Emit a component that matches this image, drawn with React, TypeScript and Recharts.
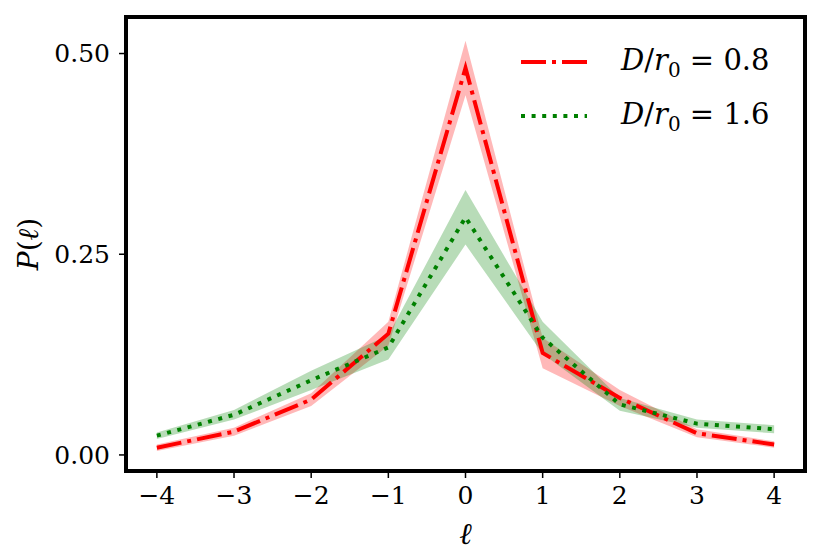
import {
  ComposedChart,
  Area,
  Line,
  XAxis,
  YAxis,
  ReferenceArea,
  Legend,
} from "recharts";

// topological charge values on the x axis
const ells = [-4, -3, -2, -1, 0, 1, 2, 3, 4];
// D/r0 = 0.8
const pNarrow = [0.009, 0.029, 0.069, 0.151, 0.482, 0.127, 0.071, 0.027, 0.013];
const errNarrow = [0.004, 0.005, 0.008, 0.015, 0.034, 0.019, 0.01, 0.005, 0.004];
// D/r0 = 1.6
const pWide = [0.024, 0.05, 0.093, 0.134, 0.296, 0.146, 0.063, 0.039, 0.032];
const errWide = [0.004, 0.006, 0.012, 0.015, 0.034, 0.02, 0.008, 0.005, 0.005];

const yTicks = [0, 0.25, 0.5];
const legendLabels = ["0.8", "1.6"];

const data = ells.map((l, i) => ({
  l,
  narrow: pNarrow[i],
  narrowBand: [pNarrow[i] - errNarrow[i], pNarrow[i] + errNarrow[i]],
  wide: pWide[i],
  wideBand: [pWide[i] - errWide[i], pWide[i] + errWide[i]],
}));

const FONT = "DejaVu Serif";
const X_DOMAIN: [number, number] = [-4.4, 4.4];
const Y_DOMAIN: [number, number] = [-0.02, 0.5455];
const ELL = "\u2113";

const fmtX = (v: number) => (v < 0 ? "\u2212" + Math.abs(v) : String(v));

const legendRows = [
  { color: "#ff0000", dash: "25 6 4 6", label: legendLabels[0] },
  { color: "#008000", dash: "4 6.6", label: legendLabels[1] },
];

function LegendBox() {
  return (
    <div style={{ fontFamily: FONT, fontSize: 29, color: "#000" }}>
      {legendRows.map((r) => (
        <div
          key={r.label}
          style={{ display: "flex", alignItems: "center", height: 54 }}
        >
          <svg width={76} height={20} style={{ marginRight: 30 }}>
            <line
              x1={6}
              x2={72}
              y1={10}
              y2={10}
              stroke={r.color}
              strokeWidth={4}
              strokeDasharray={r.dash}
            />
          </svg>
          <span style={{ whiteSpace: "nowrap" }}>
            <i>D</i>/<i>r</i>
            <sub style={{ fontSize: 20 }}>0</sub> = {r.label}
          </span>
        </div>
      ))}
    </div>
  );
}

export default function App() {
  return (
    <div style={{ position: "absolute", left: 0, top: 0, background: "#fff" }}>
      <ComposedChart
        width={830}
        height={554}
        data={data}
        margin={{ top: 17, right: 25, bottom: 0, left: 0 }}
      >
        <XAxis
          dataKey="l"
          type="number"
          domain={X_DOMAIN}
          ticks={ells}
          allowDataOverflow
          tickFormatter={fmtX}
          axisLine={false}
          tickLine={{ stroke: "#000", strokeWidth: 1.5 }}
          tickSize={7}
          tickMargin={8}
          height={83}
          tick={{ fill: "#000", fontSize: 25, fontFamily: FONT }}
          label={{
            value: ELL,
            position: "insideBottom",
            offset: 10,
            fill: "#000",
            fontSize: 30,
            fontStyle: "italic",
            fontFamily: FONT,
          }}
        />
        <YAxis
          type="number"
          domain={Y_DOMAIN}
          ticks={yTicks}
          allowDataOverflow
          tickFormatter={(v: number) => v.toFixed(2)}
          axisLine={false}
          tickLine={{ stroke: "#000", strokeWidth: 1.5 }}
          tickSize={7}
          tickMargin={9}
          width={126}
          tick={{ fill: "#000", fontSize: 25, fontFamily: FONT }}
          label={{
            content: ({ viewBox }: any) => {
              const cx = viewBox.x + 38;
              const cy = viewBox.y + viewBox.height / 2;
              return (
                <text
                  x={cx}
                  y={cy}
                  transform={`rotate(-90 ${cx} ${cy})`}
                  textAnchor="middle"
                  fontFamily={FONT}
                  fontSize={28}
                  fill="#000"
                >
                  <tspan fontStyle="italic">P</tspan>
                  <tspan>(</tspan>
                  <tspan fontStyle="italic">{ELL}</tspan>
                  <tspan>)</tspan>
                </text>
              );
            },
          }}
        />
        <Area
          type="linear"
          dataKey="narrowBand"
          fill="#ff0000"
          fillOpacity={0.28}
          stroke="none"
          isAnimationActive={false}
          legendType="none"
        />
        <Area
          type="linear"
          dataKey="wideBand"
          fill="#008000"
          fillOpacity={0.28}
          stroke="none"
          isAnimationActive={false}
          legendType="none"
        />
        <Line
          type="linear"
          dataKey="narrow"
          stroke="#ff0000"
          strokeWidth={4}
          strokeDasharray="25 6 4 6"
          dot={false}
          activeDot={false}
          isAnimationActive={false}
        />
        <Line
          type="linear"
          dataKey="wide"
          stroke="#008000"
          strokeWidth={4}
          strokeDasharray="4 6.6"
          dot={false}
          activeDot={false}
          isAnimationActive={false}
        />
        <ReferenceArea
          x1={X_DOMAIN[0]}
          x2={X_DOMAIN[1]}
          y1={Y_DOMAIN[0]}
          y2={Y_DOMAIN[1]}
          fill="none"
          stroke="#000"
          strokeWidth={4}
          ifOverflow="visible"
        />
        <Legend
          layout="horizontal"
          verticalAlign="middle"
          align="center"
          content={() => <LegendBox />}
          wrapperStyle={{ position: "absolute", left: 515, top: 35, width: 300 }}
        />
      </ComposedChart>
    </div>
  );
}
